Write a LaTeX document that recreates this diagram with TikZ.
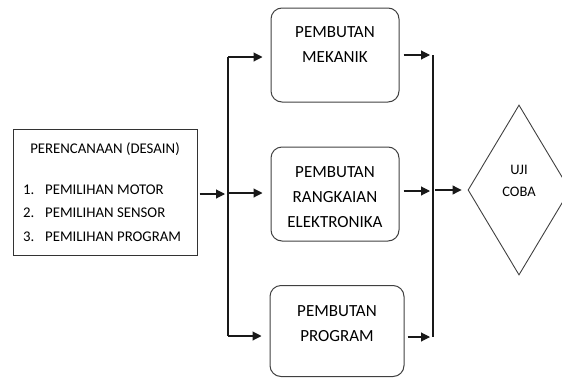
\documentclass[tikz,border=0pt]{standalone}
\usepackage{fontspec}
\setmainfont{Carlito}
\usetikzlibrary{arrows.meta,shapes.geometric}
\tikzset{
  box/.style={draw=black!75,line width=1pt,rounded corners=11pt,inner sep=0pt},
  plainbox/.style={draw=black!80,line width=1pt,inner sep=0pt},
  conn/.style={draw=black!90,line width=1.1pt},
  arr/.style={conn,-{Triangle[length=9pt,width=9pt]}},
  txt/.style={font=\fontsize{17}{25}\selectfont,align=center,text=black},
  ltxt/.style={font=\fontsize{14.8}{23.5}\selectfont,text=black,inner sep=0pt},
}
\begin{document}
\begin{tikzpicture}[x=1pt,y=-1pt]
\useasboundingbox (0,0) rectangle (562,378);
% left box
\node[plainbox,minimum width=184pt,minimum height=126pt] (plan) at (105,192) {};
\node[ltxt,anchor=center] (plantitle) at (105,149) {PERENCANAAN (DESAIN)};
\node[ltxt,anchor=west] (n1) at (23,190) {1.};
\node[ltxt,anchor=west] (n2) at (23,213) {2.};
\node[ltxt,anchor=west] (n3) at (23,237) {3.};
\node[ltxt,anchor=west] (i1) at (45,190) {PEMILIHAN MOTOR};
\node[ltxt,anchor=west] (i2) at (45,213) {PEMILIHAN SENSOR};
\node[ltxt,anchor=west] (i3) at (45,237) {PEMILIHAN PROGRAM};
% process boxes
\node[box,minimum width=128pt,minimum height=94pt] (mek) at (335,55) {};
\node[txt] (mektxt) at (335,45) {PEMBUTAN\\MEKANIK};
\node[box,minimum width=128pt,minimum height=94pt] (elk) at (335,194) {};
\node[txt] (elktxt) at (335,197) {PEMBUTAN\\RANGKAIAN\\ELEKTRONIKA};
\node[box,minimum width=134pt,minimum height=91pt] (prg) at (337,331) {};
\node[txt] (prgtxt) at (337,323.5) {PEMBUTAN\\PROGRAM};
% diamond
\node[draw=black!75,line width=0.9pt,diamond,minimum width=102pt,minimum height=170pt,inner sep=0pt] (uji) at (519,190) {};
\node[font=\fontsize{14.5}{22}\selectfont,align=center,text=black] (ujitxt) at (519,181) {UJI\\COBA};
% buses
\coordinate (lt) at (228,57);
\coordinate (lm) at (228,193);
\coordinate (lb) at (228,336);
\coordinate (lin) at (228,194);
\coordinate (rt) at (433,55);
\coordinate (rm) at (433,191);
\coordinate (rb) at (433,337);
\coordinate (rout) at (433,190);
\draw[conn] (lt) -- (lb);
\draw[conn] (rt) -- (rb);
% arrows
\draw[arr,shorten <=2pt,shorten >=3pt] (plan.east |- lin) -- (lin);
\draw[arr,shorten >=8pt] (lt) -- (lt -| mek.west);
\draw[arr,shorten >=8pt] (lm) -- (lm -| elk.west);
\draw[arr,shorten >=8pt] (lb) -- (lb -| prg.west);
\draw[arr,shorten <=4pt,shorten >=3pt] (rt -| mek.east) -- (rt);
\draw[arr,shorten <=4pt,shorten >=3pt] (rm -| elk.east) -- (rm);
\draw[arr,shorten <=3pt,shorten >=3pt] (rb -| prg.east) -- (rb);
\draw[arr,shorten <=2pt,shorten >=6pt] (rout) -- (uji.west);
\end{tikzpicture}
\end{document}
